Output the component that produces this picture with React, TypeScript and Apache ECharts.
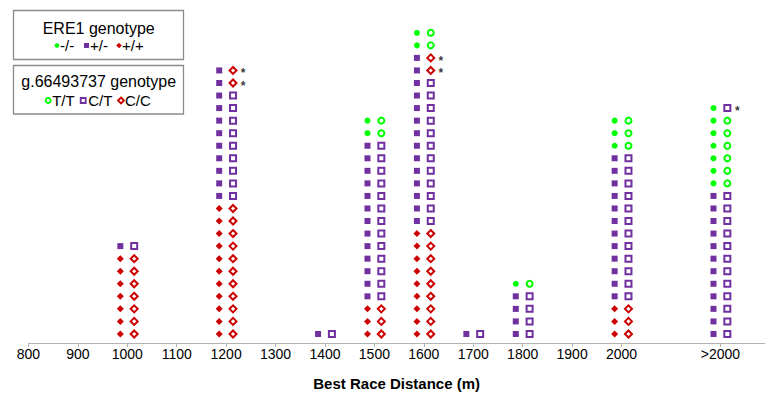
import React, { useEffect, useRef } from "react";
import * as echarts from "echarts";

// ---- Data ----
const distances = [1000, 1200, 1400, 1500, 1600, 1700, 1800, 2000, 2200];
const xTickValues = [800, 900, 1000, 1100, 1200, 1300, 1400, 1500, 1600, 1700, 1800, 1900, 2000, 2200];
const xTickLabels = ["800", "900", "1000", "1100", "1200", "1300", "1400", "1500", "1600", "1700", "1800", "1900", "2000", ">2000"];

// ERE1 genotype counts per distance (stacked bottom to top: +/+, +/-, -/-)
const ere1PlusPlus = [7, 11, 0, 3, 9, 0, 0, 3, 0];
const ere1PlusMinus = [1, 11, 1, 13, 14, 1, 4, 12, 12];
const ere1MinusMinus = [0, 0, 0, 2, 2, 0, 1, 3, 7];

// g.66493737 genotype per distance, runs from bottom to top: [genotype, count, starred]
const g66Runs: [string, number, boolean][][] = [
  [["CC", 7, false], ["CT", 1, false]],
  [["CC", 11, false], ["CT", 9, false], ["CC", 2, true]],
  [["CT", 1, false]],
  [["CC", 3, false], ["CT", 13, false], ["TT", 2, false]],
  [["CC", 9, false], ["CT", 12, false], ["CC", 2, true], ["TT", 2, false]],
  [["CT", 1, false]],
  [["CT", 4, false], ["TT", 1, false]],
  [["CC", 3, false], ["CT", 12, false], ["TT", 3, false]],
  [["CT", 12, false], ["TT", 6, false], ["CT", 1, true]],
];

const GREEN = "#00ff00";
const PURPLE = "#7030a0";
const RED = "#cc0000";
const FONT = "'Liberation Sans', Arial, sans-serif";
const FILLED_OFFSET = -14;
const OPEN_OFFSET = 14;

function buildData() {
  const mm: number[][] = [];
  const pm: number[][] = [];
  const pp: number[][] = [];
  const tt: number[][] = [];
  const ct: number[][] = [];
  const cc: number[][] = [];
  const stars: number[][] = [];
  distances.forEach((d, i) => {
    let row = 1;
    for (let k = 0; k < ere1PlusPlus[i]; k++) pp.push([d + FILLED_OFFSET, row++]);
    for (let k = 0; k < ere1PlusMinus[i]; k++) pm.push([d + FILLED_OFFSET, row++]);
    for (let k = 0; k < ere1MinusMinus[i]; k++) mm.push([d + FILLED_OFFSET, row++]);
    row = 1;
    g66Runs[i].forEach(([g, n, star]) => {
      for (let k = 0; k < n; k++) {
        const pt = [d + OPEN_OFFSET, row++];
        if (g === "TT") tt.push(pt);
        else if (g === "CT") ct.push(pt);
        else cc.push(pt);
        if (star) stars.push(pt);
      }
    });
  });
  return { mm, pm, pp, tt, ct, cc, stars };
}

function diamondPts(cx: number, cy: number, r: number) {
  return [
    [cx, cy - r],
    [cx + r, cy],
    [cx, cy + r],
    [cx - r, cy],
  ];
}

export default function App() {
  const ref = useRef<HTMLDivElement>(null);
  useEffect(() => {
    if (!ref.current) return;
    const chart = echarts.init(ref.current, undefined, { renderer: "svg" });
    const { mm, pm, pp, tt, ct, cc, stars } = buildData();

    const legendText = (text: string, x: number, y: number, align: string, size = 16) => ({
      type: "text",
      x,
      y,
      style: { text, fontSize: size, fontFamily: FONT, fill: "#000", align, verticalAlign: "middle" },
    });

    const option: any = {
      animation: false,
      backgroundColor: "#fff",
      grid: { left: 28.4, right: 4.1, top: 7.7, bottom: 60, containLabel: false, outerBoundsMode: "none" },
      xAxis: {
        type: "value",
        min: 800,
        max: 2290,
        name: "Best Race Distance (m)",
        nameLocation: "middle",
        nameGap: 33,
        nameTextStyle: { fontFamily: FONT, fontSize: 15, fontWeight: "bold", color: "#000" },
        axisLine: { show: true, lineStyle: { color: "#b3b3b3", width: 1 } },
        axisTick: { show: true, length: 4, lineStyle: { color: "#b3b3b3" }, customValues: xTickValues },
        axisLabel: {
          customValues: xTickValues,
          formatter: (v: number) => xTickLabels[xTickValues.indexOf(v)] ?? "",
          fontFamily: FONT,
          fontSize: 14,
          color: "#000",
          margin: 4,
        },
        splitLine: { show: false },
      },
      yAxis: {
        type: "value",
        min: 0.28,
        max: 27,
        show: false,
        splitLine: { show: false },
      },
      series: [
        { name: "-/-", type: "scatter", data: mm, symbol: "circle", symbolSize: 6, itemStyle: { color: GREEN, opacity: 1 } },
        { name: "+/-", type: "scatter", data: pm, symbol: "rect", symbolSize: 6, itemStyle: { color: PURPLE, opacity: 1 } },
        { name: "+/+", type: "scatter", data: pp, symbol: "diamond", symbolSize: 7, itemStyle: { color: RED, opacity: 1 } },
        {
          name: "T/T", type: "scatter", data: tt, symbol: "circle", symbolSize: 6,
          itemStyle: { color: "#fff", borderColor: GREEN, borderWidth: 2, opacity: 1 },
        },
        {
          name: "C/T", type: "scatter", data: ct, symbol: "rect", symbolSize: 6,
          itemStyle: { color: "#fff", borderColor: PURPLE, borderWidth: 2, opacity: 1 },
        },
        {
          name: "C/C", type: "scatter", data: cc, symbol: "diamond", symbolSize: 7,
          itemStyle: { color: "#fff", borderColor: RED, borderWidth: 2, opacity: 1 },
        },
        {
          name: "star", type: "scatter", data: stars, symbol: "circle", symbolSize: 1,
          itemStyle: { color: "rgba(0,0,0,0)" },
          label: {
            show: true, formatter: "*", position: "inside", offset: [10, 3],
            fontFamily: FONT, fontSize: 12, fontWeight: "bold", color: "#000", lineHeight: 10,
          },
          z: 5,
        },
      ],
      graphic: [
        {
          type: "rect", shape: { x: 13.5, y: 10.5, width: 170, height: 49 },
          style: { fill: "#fff", stroke: "#8c8c8c", lineWidth: 1.3 },
        },
        legendText("ERE1 genotype", 98.7, 28.5, "center"),
        { type: "circle", shape: { cx: 57, cy: 45.5, r: 2.3 }, style: { fill: GREEN } },
        legendText("-/-", 60, 45.5, "left", 15),
        { type: "rect", shape: { x: 84, y: 43, width: 5, height: 5 }, style: { fill: PURPLE } },
        legendText("+/-", 90, 45.5, "left", 15),
        { type: "polygon", shape: { points: diamondPts(119, 45.5, 2.8) }, style: { fill: RED } },
        legendText("+/+", 122, 45.5, "left", 15),

        {
          type: "rect", shape: { x: 13.5, y: 65.5, width: 170, height: 48.5 },
          style: { fill: "#fff", stroke: "#8c8c8c", lineWidth: 1.3 },
        },
        legendText("g.66493737 genotype", 98.7, 81.5, "center"),
        { type: "circle", shape: { cx: 48.2, cy: 100.5, r: 2.5 }, style: { fill: "#fff", stroke: GREEN, lineWidth: 1.8 } },
        legendText("T/T", 52.2, 100.5, "left", 15),
        { type: "rect", shape: { x: 80.7, y: 98, width: 5, height: 5 }, style: { fill: "#fff", stroke: PURPLE, lineWidth: 1.8 } },
        legendText("C/T", 88.2, 100.5, "left", 15),
        {
          type: "polygon", shape: { points: diamondPts(121, 100.5, 3) },
          style: { fill: "#fff", stroke: RED, lineWidth: 1.8 },
        },
        legendText("C/C", 125, 100.5, "left", 15),
      ],
    };
    chart.setOption(option);
    return () => chart.dispose();
  }, []);

  return (
    <div
      ref={ref}
      style={{ position: "fixed", left: 0, top: 0, width: 769, height: 403, background: "#fff" }}
    />
  );
}
